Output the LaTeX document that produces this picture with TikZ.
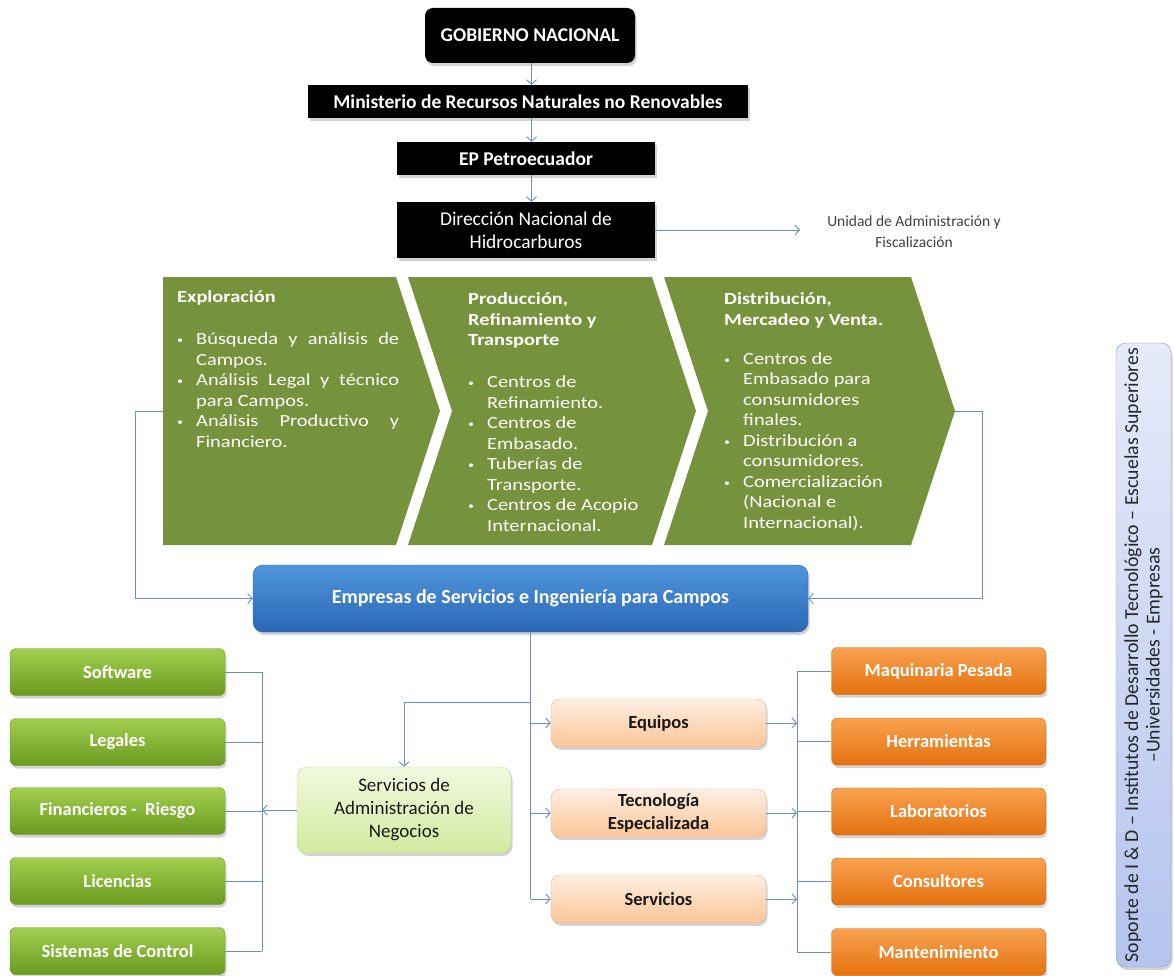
\documentclass[tikz,border=0pt]{standalone}
\usepackage{fontspec}
\setmainfont{Carlito}
\newfontfamily\widefont{Carlito}[FakeStretch=1.2]
\usetikzlibrary{arrows.meta,shadows,calc}

\definecolor{linkc}{HTML}{6A8FC7}
\definecolor{olivec}{HTML}{76923C}
\definecolor{unitgray}{HTML}{404040}
\definecolor{greentop}{RGB}{162,207,78}
\definecolor{greenbot}{RGB}{106,154,32}
\definecolor{greenrim}{RGB}{111,154,42}
\definecolor{orangetop}{RGB}{249,162,81}
\definecolor{orangebot}{RGB}{228,113,14}
\definecolor{orangerim}{RGB}{208,103,15}
\definecolor{paleotop}{RGB}{254,239,227}
\definecolor{paleobot}{RGB}{251,197,151}
\definecolor{paleorim}{RGB}{243,177,131}
\definecolor{palegtop}{RGB}{241,249,222}
\definecolor{palegbot}{RGB}{211,234,160}
\definecolor{palegrim}{RGB}{185,217,138}
\definecolor{bluetop}{RGB}{79,149,220}
\definecolor{bluebot}{RGB}{43,103,181}
\definecolor{bluerim}{RGB}{45,98,168}
\definecolor{lavtop}{RGB}{230,235,250}
\definecolor{lavbot}{RGB}{180,196,238}
\definecolor{lavrim}{RGB}{142,152,176}

% small bullet followed by the item indent
\newcommand{\bul}{\makebox[19pt][l]{\raisebox{1pt}{\fontsize{10}{10}\selectfont•}}}

\begin{document}
\begin{tikzpicture}[x=1pt,y=-1pt,
  link/.style={draw=linkc, line width=0.9pt},
  arr/.style={link, -{Straight Barb[length=4.5pt,width=10pt]}},
  shad/.style={drop shadow={opacity=0.35, shadow xshift=1.5pt, shadow yshift=-3pt}},
  blackbox/.style={shad, fill=black, text=white, inner sep=0pt, align=center,
    font=\fontsize{19.5}{23}\selectfont},
  greenbox/.style={shad, rounded corners=6pt, top color=greentop,
    bottom color=greenbot, draw=greenrim,
    minimum width=215pt, minimum height=47pt, inner sep=0pt, text=white,
    font=\fontsize{18.5}{22}\selectfont\bfseries},
  orangebox/.style={shad, rounded corners=6pt, top color=orangetop,
    bottom color=orangebot, draw=orangerim,
    minimum width=214pt, minimum height=47pt, inner sep=0pt, text=white,
    font=\fontsize{18.5}{22}\selectfont\bfseries},
  paleorange/.style={shad, rounded corners=9pt, top color=paleotop,
    bottom color=paleobot, draw=paleorim,
    minimum width=215pt, minimum height=48pt, inner sep=0pt, align=center, text=black!90,
    font=\fontsize{18.5}{23}\selectfont\bfseries},
  palegreen/.style={shad, rounded corners=10pt, top color=palegtop,
    bottom color=palegbot, draw=palegrim,
    minimum width=214pt, minimum height=86pt, inner sep=0pt, align=center, text=black!90,
    font=\fontsize{19}{23}\selectfont},
  bluebox/.style={shad, rounded corners=10pt, top color=bluetop,
    bottom color=bluebot, draw=bluerim,
    minimum width=555pt, minimum height=67pt, inner sep=0pt, text=white,
    font=\fontsize{20}{24}\selectfont\bfseries},
  sidebox/.style={shad, rounded corners=10pt, top color=lavtop,
    bottom color=lavbot, draw=lavrim,
    minimum width=624pt, minimum height=55pt, inner sep=0pt, align=center, text=black!85,
    font=\fontsize{19.8}{21.5}\selectfont, rotate=90},
  chevron/.style={fill=olivec},
  chevtext/.style={text=white, inner sep=0pt, font=\widefont\fontsize{17}{20.5}\selectfont}
]
\useasboundingbox (0,0) rectangle (1174,976);

% ---------- government chain ----------
\node[blackbox, rounded corners=8pt, minimum width=210pt, minimum height=55pt,
  font=\fontsize{19.5}{23}\selectfont\bfseries] (gob) at (530,35.5) {GOBIERNO NACIONAL};
\node[blackbox, minimum width=440pt, minimum height=33pt,
  font=\fontsize{19.5}{23}\selectfont\bfseries] (min) at (528,101.5)
  {Ministerio de Recursos Naturales no Renovables};
\node[blackbox, minimum width=258pt, minimum height=33pt,
  font=\fontsize{19.5}{23}\selectfont\bfseries] (ep) at (526,158.5) {EP Petroecuador};
\node[blackbox, minimum width=258pt, minimum height=56pt] (dnh) at (526,230)
  {Dirección Nacional de\\Hidrocarburos};

\node[text=unitgray, align=center, inner sep=0pt, font=\fontsize{15.5}{21}\selectfont]
  (uaf) at (914,232) {Unidad de Administración y\\Fiscalización};
\coordinate (uafin) at (800,230);

\coordinate (vx) at (531.5,0);
\draw[arr] (gob.south -| vx) -- (min.north -| vx);
\draw[arr] (min.south -| vx) -- (ep.north -| vx);
\draw[arr] (ep.south -| vx) -- (dnh.north -| vx);
\draw[arr] (dnh.east) -- (uafin);

% ---------- value chain chevrons ----------
\fill[chevron] (163,277) -- (396,277) -- (440,411) -- (396,545) -- (163,545) -- cycle;
\fill[chevron] (408,277) -- (652,277) -- (696,411) -- (652,545) -- (408,545) -- (452,411) -- cycle;
\fill[chevron] (664,277) -- (911,277) -- (955,411) -- (911,545) -- (664,545) -- (708,411) -- cycle;
\coordinate (c1w) at (163,411);
\coordinate (c3e) at (955,411);

\node[chevtext, anchor=base west] (t1) at (177,302.5) {%
\begin{tabular}[t]{@{}l@{}l@{}}
\multicolumn{2}{@{}l@{}}{\bfseries Exploración}\\[21.5pt]
\bul & \makebox[203pt][s]{Búsqueda y análisis de}\\
     & Campos.\\
\bul & \makebox[203pt][s]{Análisis Legal y técnico}\\
     & para Campos.\\
\bul & \makebox[203pt][s]{Análisis Productivo y}\\
     & Financiero.
\end{tabular}};

\node[chevtext, anchor=base west] (t2) at (468,304.5) {%
\begin{tabular}[t]{@{}l@{}l@{}}
\multicolumn{2}{@{}l@{}}{\bfseries Producción,}\\
\multicolumn{2}{@{}l@{}}{\bfseries Refinamiento y}\\
\multicolumn{2}{@{}l@{}}{\bfseries Transporte}\\[21.5pt]
\bul & Centros de\\
     & Refinamiento.\\
\bul & Centros de\\
     & Embasado.\\
\bul & Tuberías de\\
     & Transporte.\\
\bul & Centros de Acopio\\
     & Internacional.
\end{tabular}};

\node[chevtext, anchor=base west] (t3) at (724,304.5) {%
\begin{tabular}[t]{@{}l@{}l@{}}
\multicolumn{2}{@{}l@{}}{\bfseries Distribución,}\\
\multicolumn{2}{@{}l@{}}{\bfseries Mercadeo y Venta.}\\[18.5pt]
\bul & Centros de\\
     & Embasado para\\
     & consumidores\\
     & finales.\\
\bul & Distribución a\\
     & consumidores.\\
\bul & Comercialización\\
     & (Nacional e\\
     & Internacional).
\end{tabular}};

% ---------- service companies ----------
\node[bluebox] (esic) at (530.5,598.5) {Empresas de Servicios e Ingeniería para Campos};
\draw[arr] (c1w) -- ++(-28,0) |- (esic.west);
\draw[arr] (c3e) -- ++(27,0) |- (esic.east);

\node[palegreen] (adm) at (404,810) {Servicios de\\Administración de\\Negocios};
\node[paleorange] (equ) at (658.5,723) {Equipos};
\node[paleorange] (tec) at (658.5,813) {Tecnología\\Especializada};
\node[paleorange] (srv) at (658.5,899) {Servicios};

\coordinate (split) at ($(esic.south)+(0,70)$);
\draw[link] (esic.south) -- (esic.south |- srv.west);
\draw[arr] (split) -| (adm.north);
\draw[arr] (esic.south |- equ.west) -- (equ.west);
\draw[arr] (esic.south |- tec.west) -- (tec.west);
\draw[arr] (esic.south |- srv.west) -- (srv.west);

% left column: business services
\node[greenbox] (sw)  at (117.5,672) {Software};
\node[greenbox] (leg) at (117.5,742) {Legales};
\node[greenbox] (fin) at (117.5,811) {Financieros -\ \ Riesgo};
\node[greenbox] (lic) at (117.5,881) {Licencias};
\node[greenbox] (sis) at (117.5,951) {Sistemas de Control};

\coordinate (lbx) at (262,0);
\foreach \n in {sw,leg,fin,lic,sis} \draw[link] (\n.east) -- (\n.east -| lbx);
\draw[link] (sw.east -| lbx) -- (sis.east -| lbx);
\draw[arr] (adm.west) -- (adm.west -| lbx);

% right column: equipment and services
\node[orangebox] (maq) at (938.5,671) {Maquinaria Pesada};
\node[orangebox] (her) at (938.5,741.5) {Herramientas};
\node[orangebox] (lab) at (938.5,811.5) {Laboratorios};
\node[orangebox] (con) at (938.5,881.5) {Consultores};
\node[orangebox] (man) at (938.5,952) {Mantenimiento};

\coordinate (rbx) at (797,0);
\foreach \n in {maq,her,lab,con,man} \draw[link] (\n.west) -- (\n.west -| rbx);
\draw[link] (maq.west -| rbx) -- (man.west -| rbx);
\draw[arr] (equ.east) -- (equ.east -| rbx);
\draw[arr] (tec.east) -- (tec.east -| rbx);
\draw[arr] (srv.east) -- (srv.east -| rbx);

% ---------- R&D support band ----------
\node[sidebox] (rd) at (1143.5,655)
  {Soporte de I \& D – Institutos de Desarrollo Tecnológico – Escuelas Superiores\\–Universidades - Empresas};
\end{tikzpicture}
\end{document}
